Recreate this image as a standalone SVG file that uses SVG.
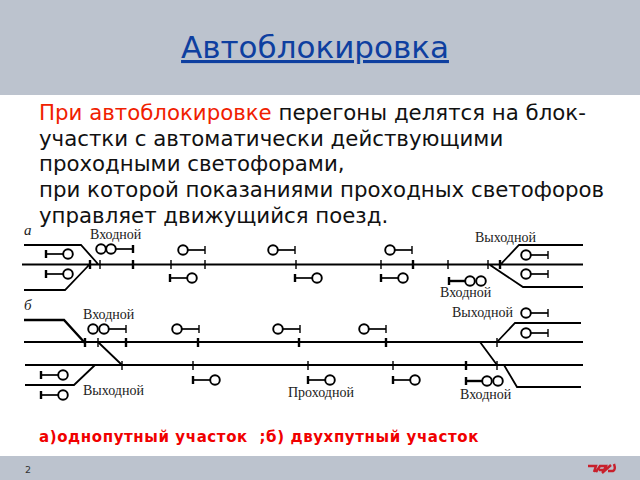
<svg xmlns="http://www.w3.org/2000/svg" width="640" height="480" viewBox="0 0 640 480">
<style>
.tk{fill:none;stroke:#000;stroke-width:1.8}
.hv{fill:none;stroke:#000;stroke-width:2.4}
.tick{stroke:#000;stroke-width:1.4}
.thick{stroke:#000;stroke-width:2.4}
.c{fill:#fff;stroke:#000;stroke-width:1.9}
.m{stroke:#000;stroke-width:1.7}
.lb{font-family:"Liberation Serif",serif;font-size:14px;fill:#222}
.it{font-family:"Liberation Serif",serif;font-size:15px;font-style:italic;fill:#222}
.b{font-family:"DejaVu Sans",sans-serif;font-size:21.3px;fill:#111}
</style>
<defs>
<g id="sr"><line class="m" x1="0" y1="0" x2="-22" y2="0"/><line class="thick" x1="-22" y1="-4" x2="-22" y2="4"/><circle class="c" r="4.800"/></g>
<g id="sl"><line class="m" x1="0" y1="0" x2="22" y2="0"/><line class="tick" x1="22" y1="-4" x2="22" y2="4"/><circle class="c" r="4.800"/></g>
</defs>
<rect width="640" height="480" fill="#fff"/>
<rect width="640" height="95" fill="#bcc3ce"/>
<rect y="456" width="640" height="24" fill="#bcc3ce"/>
<text x="315" y="58" text-anchor="middle" font-family="DejaVu Sans,sans-serif" font-size="31" fill="#0e3fa0" text-decoration="underline">Автоблокировка</text>
<g id="body">
<text class="b" x="39" y="120"><tspan fill="#f02000">При автоблокировке</tspan> перегоны делятся на блок-</text>
<text class="b" x="39" y="146">участки с автоматически действующими</text>
<text class="b" x="39" y="171">проходными светофорами,</text>
<text class="b" x="39" y="197">при которой показаниями проходных светофоров</text>
<text class="b" x="39" y="223">управляет движущийся поезд.</text>
</g>
<g id="connectors">
<path class="tk" d="M22 264.500H583M24 245H81L98 264M24 290H65L90 264M500 265L519 245H583M490 265L523 287H583"/>
<path class="tk" d="M24 342H583M25 365H583M98 342L122 365M25 385H74L95 365M497 342L515 323H581M480 342L497 365M504 365L517 387H581"/>
<path class="hv" d="M24 320H64L85 343"/>
<path class="tick" d="M100 260V269M171 260V269M205 260V269M296 260V269M381 260V269M448 260V269M488 260V269M98 338V347M497 338V347M122 361V370M193 361V370M308 361V370M393 361V370M497 361V370"/>
<path class="thick" d="M90 260V269M133 260V269M413 260V269M500 260V269M85 338V347M126 338V347M198 338V347M299 338V347M386 338V347M466 361V370"/>
</g>
<g id="signals-a">
<use href="#sr" x="68" y="254"/><use href="#sr" x="68" y="274"/>
<g id="entry-a"><line class="m" x1="111" y1="249" x2="133" y2="249"/><line class="thick" x1="133" y1="245" x2="133" y2="253"/><circle class="c" cx="101" cy="249" r="4.800"/><circle class="c" cx="111" cy="249" r="4.800"/></g>
<use href="#sl" x="183" y="250"/><use href="#sl" x="273" y="250"/><use href="#sl" x="390" y="250"/>
<use href="#sr" x="192" y="278"/><use href="#sr" x="317" y="278"/><use href="#sr" x="403" y="278"/>
<g id="exit-a"><line class="thick" x1="449" y1="281" x2="470" y2="281"/><line class="thick" x1="449" y1="277" x2="449" y2="285"/><circle class="c" cx="470" cy="281" r="4.800"/><circle class="c" cx="481" cy="281" r="4.800"/></g>
<use href="#sl" x="526" y="255"/><use href="#sl" x="526" y="274"/>
</g>
<g id="signals-b">
<g id="entry-b"><line class="m" x1="104" y1="329" x2="126" y2="329"/><line class="tick" x1="126" y1="325" x2="126" y2="333"/><circle class="c" cx="93" cy="329" r="4.800"/><circle class="c" cx="104" cy="329" r="4.800"/></g>
<use href="#sl" x="177" y="329"/><use href="#sl" x="278" y="329"/><use href="#sl" x="364" y="329"/>
<use href="#sl" x="526" y="313"/><use href="#sl" x="526" y="333"/>
<use href="#sr" x="63" y="375"/><use href="#sr" x="63" y="395"/>
<use href="#sr" x="215" y="380"/><use href="#sr" x="330" y="380"/><use href="#sr" x="415" y="380"/>
<g id="exit-b"><line class="thick" x1="466" y1="381" x2="487" y2="381"/><line class="thick" x1="466" y1="377" x2="466" y2="385"/><circle class="c" cx="487" cy="381" r="4.800"/><circle class="c" cx="498" cy="381" r="4.800"/></g>
</g>
<g id="labels">
<text class="it" x="24" y="235">а</text><text class="it" x="24" y="310">б</text>
<text class="lb" x="90" y="239">Входной</text>
<text class="lb" x="475" y="242">Выходной</text>
<text class="lb" x="440" y="297">Входной</text>
<text class="lb" x="452" y="317">Выходной</text>
<text class="lb" x="83" y="319">Входной</text>
<text class="lb" x="83" y="395">Выходной</text>
<text class="lb" x="288" y="397">Проходной</text>
<text class="lb" x="460" y="399">Входной</text>
</g>
<text x="39" y="442" font-family="DejaVu Sans,sans-serif" font-size="15" font-weight="bold" letter-spacing="0.6" fill="#f00000" xml:space="preserve">а)однопутный участок  ;б) двухпутный участок</text>
<text x="25" y="473" font-family="DejaVu Sans,sans-serif" font-size="9.500" fill="#333">2</text>
<g id="logo" fill="none" stroke="#c8202c" stroke-width="2.400"><path d="M588 466H596L594 472M596 472L600 466H606L604 470H599M602 473L611 465M608 471H613Q616 470 614 464"/></g>
</svg>
